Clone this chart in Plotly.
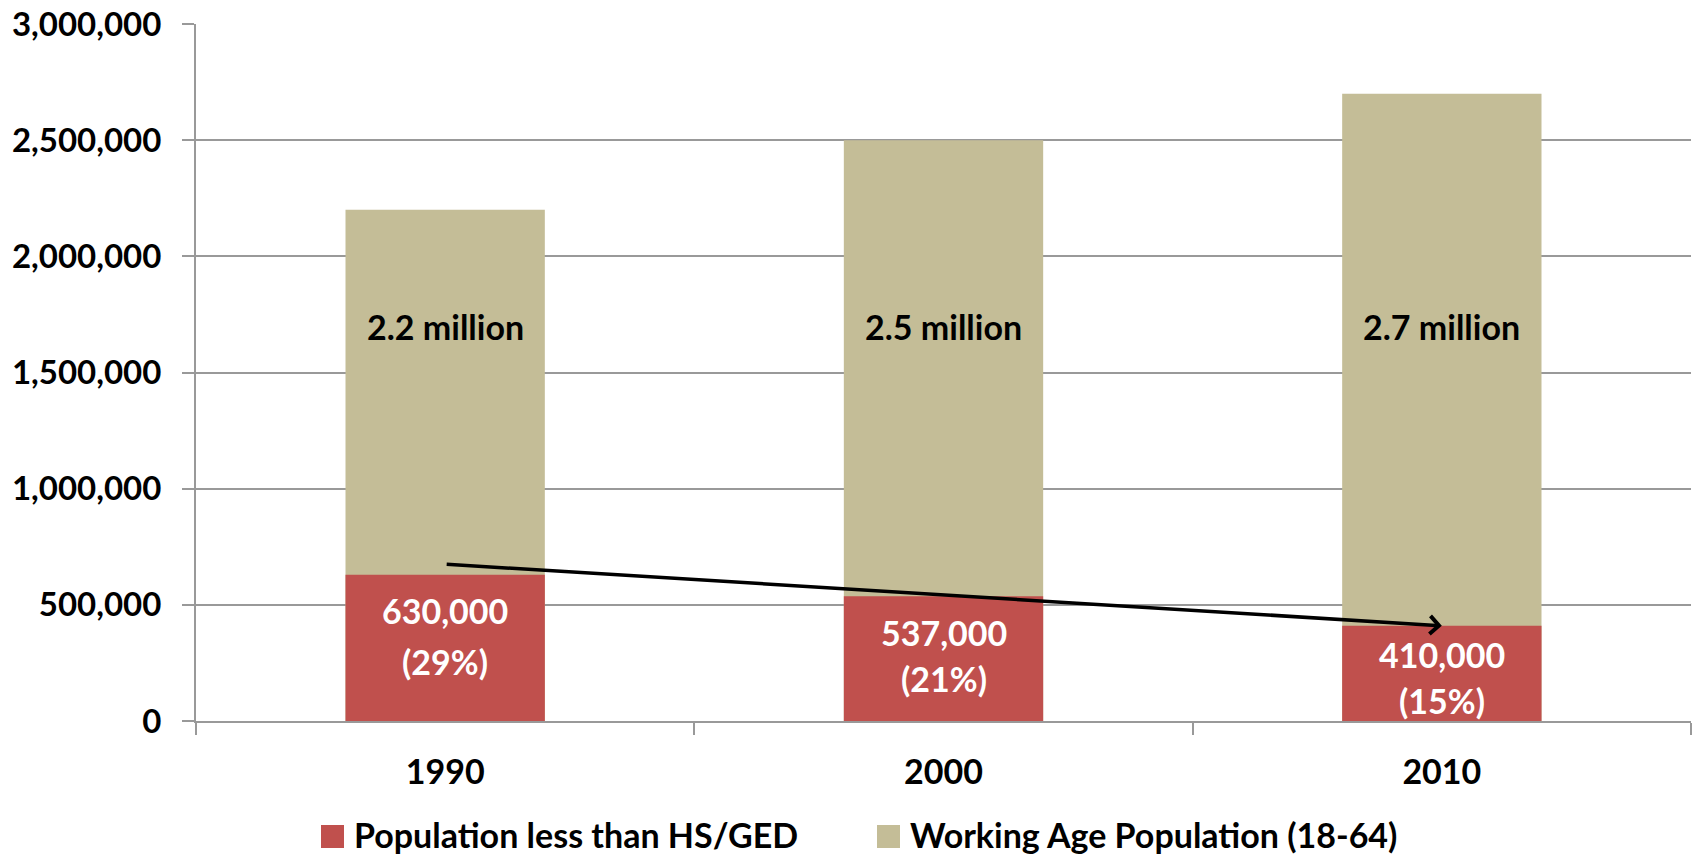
import plotly.graph_objects as go

# Data
years = ["1990", "2000", "2010"]
working_age_pop = [2200000, 2500000, 2700000]
less_than_hs_pop = [630000, 537000, 410000]
less_than_hs_pct = [29, 21, 15]
total_labels = ["2.2 million", "2.5 million", "2.7 million"]
y_tick_values = [0, 500000, 1000000, 1500000, 2000000, 2500000, 3000000]

RED = "#C0504D"
TAN = "#C4BD97"
GRID = "#999999"
FONT = "Lato"
FSIZE = 34

fig = go.Figure()

fig.add_trace(go.Bar(
    x=years, y=working_age_pop, name="Working Age Population (18-64)",
    marker=dict(color=TAN, line=dict(width=0)), width=0.4, showlegend=False,
    hoverinfo="skip",
))
fig.add_trace(go.Bar(
    x=years, y=less_than_hs_pop, name="Population less than HS/GED",
    marker=dict(color=RED, line=dict(width=0)), width=0.4, showlegend=False,
    hoverinfo="skip",
))

annotations = []

# Totals inside the tan bars
for i, lab in enumerate(total_labels):
    annotations.append(dict(
        x=i, y=1700000, xref="x", yref="y", text=lab, showarrow=False,
        font=dict(family=FONT, size=FSIZE, color="black", weight="bold"),
    ))

# Count and share inside the red bars (two lines each)
value_line_y = [475000, 380000, 285000]
pct_line_y = [255000, 182000, 90000]
for i, (v, p) in enumerate(zip(less_than_hs_pop, less_than_hs_pct)):
    annotations.append(dict(
        x=i, y=value_line_y[i], xref="x", yref="y", text=f"{v:,}", showarrow=False,
        font=dict(family=FONT, size=FSIZE, color="white", weight="bold"),
    ))
    annotations.append(dict(
        x=i, y=pct_line_y[i], xref="x", yref="y", text=f"({p}%)", showarrow=False,
        font=dict(family=FONT, size=FSIZE, color="white", weight="bold"),
    ))

# Trend arrow from 1990 to 2010
annotations.append(dict(
    x=2, y=less_than_hs_pop[2], xref="x", yref="y",
    ax=0, ay=675000, axref="x", ayref="y",
    text="", showarrow=True, arrowhead=4, arrowsize=1.0, arrowwidth=3.5,
    arrowcolor="black", standoff=0, startstandoff=0,
))

# Legend drawn as swatches + labels below the axis
plot_l, plot_r, plot_t, plot_b = 196, 1691, 24, 721
pw, ph = plot_r - plot_l, plot_b - plot_t


def px_x(px):
    return (px - plot_l) / pw


def px_y(py):
    return (plot_b - py) / ph


legend_items = [("Population less than HS/GED", RED, 321),
                ("Working Age Population (18-64)", TAN, 877)]
shapes = []
legend_cy = 834
for text, color, sx in legend_items:
    shapes.append(dict(
        type="rect", xref="paper", yref="paper",
        x0=px_x(sx), x1=px_x(sx + 23), y0=px_y(legend_cy + 14), y1=px_y(legend_cy - 9),
        fillcolor=color, line=dict(width=0),
    ))
    annotations.append(dict(
        x=px_x(sx + 31), y=px_y(legend_cy), xref="paper", yref="paper",
        xanchor="left", yanchor="middle", text=text, showarrow=False,
        font=dict(family=FONT, size=FSIZE, color="black", weight="bold"),
    ))

fig.update_layout(
    width=1696, height=857,
    margin=dict(l=plot_l, r=1696 - plot_r, t=plot_t, b=857 - plot_b, autoexpand=False),
    barmode="overlay",
    bargap=0.6,
    plot_bgcolor="white",
    paper_bgcolor="white",
    showlegend=False,
    annotations=annotations,
    shapes=shapes,
    font=dict(family=FONT, size=FSIZE, color="black", weight="bold"),
)

fig.update_xaxes(
    type="category",
    showline=True, linecolor=GRID, linewidth=2,
    ticks="outside", tickson="boundaries", ticklen=12, tickcolor=GRID, tickwidth=2,
    ticklabelstandoff=20,
    tickfont=dict(family=FONT, size=FSIZE, color="black", weight="bold"),
    showgrid=False, zeroline=False,
)

fig.update_yaxes(
    range=[0, 3000000],
    tickvals=y_tick_values,
    tickformat=",d",
    showline=True, linecolor=GRID, linewidth=2,
    ticks="outside", ticklen=12, tickcolor=GRID, tickwidth=2,
    ticklabelstandoff=14,
    showgrid=True, gridcolor=GRID, gridwidth=2,
    zeroline=False,
    tickfont=dict(family=FONT, size=33, color="black", weight="bold"),
)

fig.write_html("out.html")
